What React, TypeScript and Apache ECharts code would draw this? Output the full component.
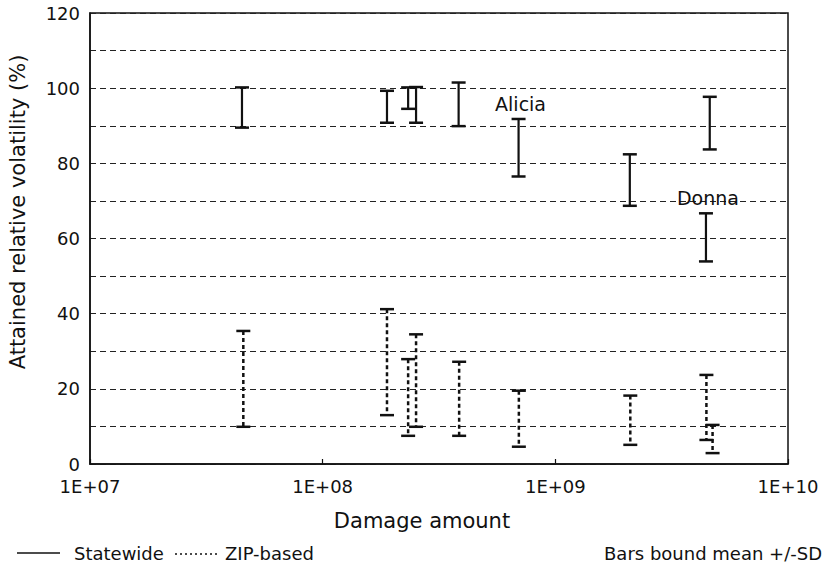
import React, { useEffect, useRef } from "react";
import * as echarts from "echarts";

// Statewide (solid) error bars: damage amount, mean-SD, mean+SD
const stateX = [4.5e7, 1.89e8, 2.33e8, 2.52e8, 3.84e8, 6.95e8, 2.09e9, 4.61e9, 4.44e9];
const stateLow = [89.5, 90.8, 94.5, 90.8, 89.9, 76.5, 68.7, 83.7, 53.9];
const stateHigh = [100.2, 99.3, 100.2, 100.3, 101.5, 91.8, 82.4, 97.7, 66.7];
const stateNames = ["", "", "", "", "", "Alicia", "", "", "Donna"];

// ZIP-based (dashed) error bars
const zipX = [4.56e7, 1.89e8, 2.33e8, 2.52e8, 3.86e8, 6.97e8, 2.1e9, 4.46e9, 4.74e9];
const zipLow = [9.9, 13.0, 7.5, 9.9, 7.5, 4.6, 5.1, 6.4, 2.9];
const zipHigh = [35.4, 41.2, 27.9, 34.5, 27.2, 19.5, 18.2, 23.7, 10.4];

const FONT = "DejaVu Sans";

function makeRender(dashed: boolean, names: string[] | null) {
  return (params: any, api: any) => {
    const x = api.value(0);
    const lo = api.value(1);
    const hi = api.value(2);
    const pHi = api.coord([x, hi]);
    const pLo = api.coord([x, lo]);
    const hw = 7;
    const children: any[] = [
      {
        type: "line",
        shape: { x1: pHi[0], y1: pHi[1], x2: pLo[0], y2: pLo[1] },
        style: { stroke: "#111", lineWidth: dashed ? 2.5 : 2.2, lineDash: dashed ? [4, 3] : null },
      },
      {
        type: "line",
        shape: { x1: pHi[0] - hw, y1: pHi[1], x2: pHi[0] + hw, y2: pHi[1] },
        style: { stroke: "#111", lineWidth: 2.5 },
      },
      {
        type: "line",
        shape: { x1: pLo[0] - hw, y1: pLo[1], x2: pLo[0] + hw, y2: pLo[1] },
        style: { stroke: "#111", lineWidth: 2.5 },
      },
    ];
    const name = names ? names[params.dataIndex] : "";
    if (name) {
      children.push({
        type: "text",
        style: {
          text: name,
          x: pHi[0] + 2,
          y: pHi[1] - 15,
          align: "center",
          verticalAlign: "middle",
          font: `19px "${FONT}"`,
          fill: "#111",
        },
      });
    }
    return { type: "group", children };
  };
}

export default function App() {
  const ref = useRef<HTMLDivElement>(null);
  useEffect(() => {
    if (!ref.current) return;
    const chart = echarts.init(ref.current, null, { renderer: "svg" });
    const stateData = stateX.map((x, i) => [x, stateLow[i], stateHigh[i]]);
    const zipData = zipX.map((x, i) => [x, zipLow[i], zipHigh[i]]);
    const textStyle = { fontFamily: FONT, fontSize: 18, color: "#111" };
    chart.setOption({
      animation: false,
      backgroundColor: "#fff",
      grid: {
        left: 90,
        right: 40,
        top: 13,
        bottom: 105,
        show: true,
        borderColor: "#111",
        borderWidth: 1.5,
      },
      xAxis: {
        type: "log",
        logBase: 10,
        min: 1e7,
        max: 1e10,
        axisLine: { show: true, lineStyle: { color: "#111", width: 1.5 } },
        axisTick: { show: true, inside: true, length: 5, lineStyle: { color: "#111", width: 1.2 } },
        splitLine: { show: false },
        minorTick: { show: false },
        axisLabel: {
          ...textStyle,
          margin: 13,
          formatter: (v: number) => {
            const e = Math.round(Math.log10(v));
            return "1E+" + (e < 10 ? "0" + e : String(e));
          },
        },
      },
      yAxis: {
        type: "value",
        min: 0,
        max: 120,
        interval: 10,
        axisLine: { show: true, lineStyle: { color: "#111", width: 1.5 } },
        axisTick: { show: false },
        splitLine: { show: true, lineStyle: { color: "#222", width: 1.2, type: [6, 4] } },
        axisLabel: {
          ...textStyle,
          margin: 10,
          formatter: (v: number) => (v % 20 === 0 ? String(v) : ""),
        },
      },
      graphic: [
        {
          type: "text",
          x: 18,
          y: 212,
          rotation: Math.PI / 2,
          style: {
            text: "Attained relative volatility (%)",
            align: "center",
            verticalAlign: "middle",
            font: `21px "${FONT}"`,
            fill: "#111",
          },
        },
        {
          type: "text",
          x: 422,
          y: 521,
          style: {
            text: "Damage amount",
            align: "center",
            verticalAlign: "middle",
            font: `21px "${FONT}"`,
            fill: "#111",
          },
        },
        {
          type: "line",
          shape: { x1: 17, y1: 553, x2: 60, y2: 553 },
          style: { stroke: "#111", lineWidth: 1.5 },
        },
        {
          type: "text",
          x: 74,
          y: 553,
          style: { text: "Statewide", align: "left", verticalAlign: "middle", font: `18px "${FONT}"`, fill: "#111" },
        },
        {
          type: "line",
          shape: { x1: 175, y1: 554, x2: 217, y2: 554 },
          style: { stroke: "#111", lineWidth: 1.5, lineDash: [2, 3] },
        },
        {
          type: "text",
          x: 225,
          y: 553,
          style: { text: "ZIP-based", align: "left", verticalAlign: "middle", font: `18px "${FONT}"`, fill: "#111" },
        },
        {
          type: "text",
          x: 822,
          y: 553,
          style: {
            text: "Bars bound mean +/-SD",
            align: "right",
            verticalAlign: "middle",
            font: `18px "${FONT}"`,
            fill: "#111",
          },
        },
      ],
      series: [
        {
          type: "custom",
          name: "Statewide",
          renderItem: makeRender(false, stateNames),
          encode: { x: 0, y: [1, 2] },
          data: stateData,
          z: 3,
        },
        {
          type: "custom",
          name: "ZIP-based",
          renderItem: makeRender(true, null),
          encode: { x: 0, y: [1, 2] },
          data: zipData,
          z: 3,
        },
      ],
    });
    return () => chart.dispose();
  }, []);
  return (
    <div
      ref={ref}
      style={{ position: "fixed", left: 0, top: 0, width: 828, height: 569, background: "#fff" }}
    />
  );
}
